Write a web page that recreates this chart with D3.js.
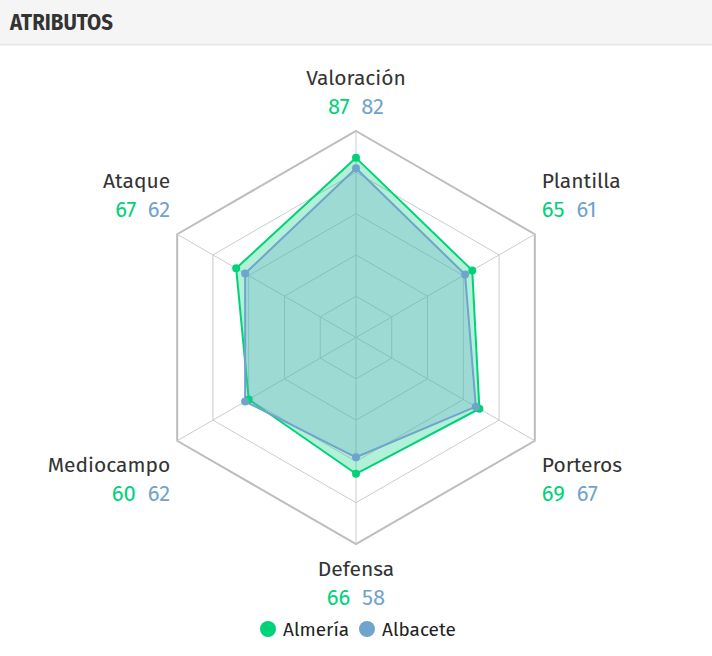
<!DOCTYPE html>
<html>
<head>
<meta charset="utf-8">
<script src="https://cdn.jsdelivr.net/npm/d3@7"></script>
<style>
  html, body { margin: 0; padding: 0; background: #fff; }
  svg { display: block; font-family: "Fira Sans", Lato, "Noto Sans", sans-serif; }
</style>
</head>
<body>
<svg id="chart" width="712" height="656"></svg>
<script>
const title = "ATRIBUTOS";
const categories = ["Valoración", "Plantilla", "Porteros", "Defensa", "Mediocampo", "Ataque"];
const teams = ["Almería", "Albacete"];
const almeria = [87, 65, 69, 66, 60, 67];
const albacete = [82, 61, 67, 58, 62, 62];
const gridLevels = [20, 40, 60, 80, 100];
const colors = ["#00d27a", "#6fa4cd"];

const svg = d3.select("#chart");
const W = 712, H = 656;

// header
svg.append("rect").attr("x", 0).attr("y", 0).attr("width", W).attr("height", 44).attr("fill", "#f5f5f5");
svg.append("rect").attr("x", 0).attr("y", 44).attr("width", W).attr("height", 1.5).attr("fill", "#e6e6e6");
svg.append("text").attr("x", 10).attr("y", 29.5)
  .attr("font-size", 24).attr("font-weight", 700).attr("fill", "#333")
  .attr("textLength", 103).attr("lengthAdjust", "spacingAndGlyphs")
  .text(title);

const cx = 356, cy = 337.5, R = 206.5;
const r = d3.scaleLinear().domain([0, 100]).range([0, R]);
const angle = d3.scalePoint().domain(categories).range([0, 2 * Math.PI * (categories.length - 1) / categories.length]);
const g = svg.append("g").attr("transform", `translate(${cx},${cy})`);

const pt = (cat, v) => {
  const a = angle(cat);
  return [Math.sin(a) * r(v), -Math.cos(a) * r(v)];
};

const lineClosed = d3.line().curve(d3.curveLinearClosed);

// grid rings
gridLevels.forEach(lv => {
  g.append("path")
    .attr("d", lineClosed(categories.map(c => pt(c, lv))))
    .attr("fill", "none")
    .attr("stroke", lv === 100 ? "#bdbdbd" : "#cccccc")
    .attr("stroke-width", lv === 100 ? 2 : 1);
});
// spokes
categories.forEach(c => {
  const p = pt(c, 100);
  g.append("line").attr("x1", 0).attr("y1", 0).attr("x2", p[0]).attr("y2", p[1])
    .attr("stroke", "#cccccc").attr("stroke-width", 1);
});

// series
const series = [almeria, albacete];
series.forEach((vals, i) => {
  const pts = categories.map((c, j) => pt(c, vals[j]));
  g.append("path")
    .attr("d", lineClosed(pts))
    .attr("fill", colors[i]).attr("fill-opacity", 0.3)
    .attr("stroke", colors[i]).attr("stroke-width", 2).attr("stroke-linejoin", "round");
});
series.forEach((vals, i) => {
  g.selectAll(null).data(categories).enter().append("circle")
    .attr("cx", (c, j) => pt(c, vals[j])[0])
    .attr("cy", (c, j) => pt(c, vals[j])[1])
    .attr("r", 4).attr("fill", colors[i]);
});

// labels
categories.forEach((c, j) => {
  const a = angle(c);
  const s = Math.sin(a), co = Math.cos(a);
  const vx = s * R, vy = -co * R;
  let x, y, anchor;
  if (Math.abs(s) < 0.01) {
    x = vx; anchor = "middle";
    y = co > 0 ? vy - 46 : vy + 32;
  } else {
    x = vx + (s > 0 ? 7 : -7);
    anchor = s > 0 ? "start" : "end";
    y = co > 0 ? vy - 46 : vy + 31;
  }
  g.append("text").attr("x", x).attr("y", y).attr("text-anchor", anchor)
    .attr("font-size", 21).attr("fill", "#333").text(c);
  const t = g.append("text").attr("x", x).attr("y", y + 29).attr("text-anchor", anchor)
    .attr("font-size", 22);
  t.append("tspan").attr("fill", colors[0]).text(almeria[j]);
  t.append("tspan").attr("fill", colors[1]).attr("dx", 12).text(albacete[j]);
});

// legend
const legendX = [268, 367];
teams.forEach((tm, i) => {
  svg.append("circle").attr("cx", legendX[i]).attr("cy", 629).attr("r", 8).attr("fill", colors[i]);
  svg.append("text").attr("x", legendX[i] + 15).attr("y", 636)
    .attr("font-size", 19).attr("fill", "#222").text(tm);
});
</script>
</body>
</html>
